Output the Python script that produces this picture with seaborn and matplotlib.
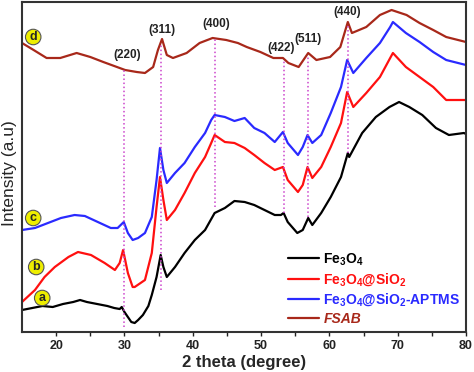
import pandas as pd
import seaborn as sns
import matplotlib.pyplot as plt

sns.set_style('ticks')
plt.rcParams['font.family'] = ['Liberation Sans', 'DejaVu Sans']
plt.rcParams['mathtext.fontset'] = 'custom'
plt.rcParams['mathtext.rm'] = 'Liberation Sans'
plt.rcParams['mathtext.bf'] = 'Liberation Sans:bold'
plt.rcParams['mathtext.it'] = 'Liberation Sans:italic'
plt.rcParams['mathtext.default'] = 'bf'

# XRD patterns (2 theta in degree, intensity in a.u.)
fe3o4_x = [15.0, 16.5, 18.0, 19.5, 21.0, 22.5, 23.5, 24.5, 26.0, 27.5, 28.5, 29.3, 29.6, 30.0,
           30.5, 31.0, 31.5, 32.0, 32.7, 33.5, 34.0, 34.7, 35.3, 35.7, 36.2, 37.4, 38.8, 40.3,
           41.8, 43.2, 44.7, 46.1, 47.6, 49.0, 50.5, 52.0, 52.9, 53.3, 53.9, 55.3, 56.1, 56.9,
           57.5, 58.8, 60.2, 61.7, 62.7, 62.9, 64.8, 66.8, 68.8, 70.2, 71.7, 73.6, 75.6, 77.5,
           79.7, 80.0]
fe3o4_y = [22, 24, 26, 25, 28, 30, 32, 30, 28, 26, 24, 23, 25, 20,
           15, 10, 9, 12, 17, 26, 37, 55, 77, 65, 55, 65, 79, 92,
           102, 119, 124, 131, 130, 127, 122, 117, 117, 119, 110, 99, 102, 114,
           107, 119, 135, 155, 179, 175, 199, 215, 225, 230, 225, 217, 204, 197,
           199, 198]

sio2_x = [15.0, 16.9, 18.3, 19.8, 21.8, 23.2, 25.1, 27.1, 28.6, 29.3, 29.8, 30.5, 31.2, 31.5,
          33.0, 34.0, 34.7, 35.2, 35.7, 36.2, 37.4, 38.8, 40.3, 41.8, 42.7, 43.2, 44.7, 46.1,
          47.6, 49.0, 50.5, 52.0, 53.2, 53.9, 55.4, 56.1, 56.8, 57.5, 58.8, 60.2, 61.7, 62.6,
          63.5, 65.4, 67.4, 68.9, 69.3, 71.2, 73.2, 75.2, 77.1, 80.0]
sio2_y = [30, 42, 55, 65, 75, 80, 77, 69, 62, 69, 82, 59, 45, 45,
          52, 79, 125, 155, 132, 112, 122, 139, 159, 175, 189, 197, 190, 189,
          184, 177, 169, 162, 165, 152, 140, 147, 165, 154, 165, 185, 209, 240,
          225, 239, 255, 274, 279, 265, 255, 245, 232, 232]

aptms_x = [15.0, 16.9, 18.8, 20.7, 22.7, 24.2, 26.1, 28.0, 29.0, 29.9, 30.5, 31.2, 32.0, 33.0,
           34.0, 34.7, 35.2, 35.7, 36.2, 37.4, 38.8, 40.3, 41.8, 42.7, 43.2, 44.7, 46.1, 47.6,
           49.0, 50.5, 52.0, 53.2, 53.9, 55.4, 56.1, 56.8, 57.5, 58.8, 60.2, 61.7, 62.6, 63.5,
           65.4, 67.4, 68.9, 69.3, 71.2, 73.2, 75.2, 77.1, 80.0]
aptms_y = [102, 104, 109, 114, 117, 116, 110, 104, 104, 110, 99, 92, 94, 99,
           115, 152, 184, 162, 149, 159, 169, 185, 199, 212, 217, 215, 211, 214,
           204, 199, 190, 200, 189, 177, 185, 197, 189, 197, 219, 245, 272, 259,
           274, 289, 305, 310, 299, 290, 280, 272, 267]

fsab_x = [15.0, 16.7, 18.6, 20.6, 23.0, 25.0, 26.9, 28.9, 30.1, 31.8, 33.0, 34.2, 34.9, 35.5,
          36.2, 37.1, 39.1, 41.0, 42.9, 44.9, 46.6, 47.9, 49.9, 51.8, 53.2, 54.0, 55.5, 56.9,
          58.1, 60.1, 61.6, 62.7, 63.3, 65.4, 67.4, 69.1, 71.3, 73.2, 75.2, 77.1, 80.0]
fsab_y = [289, 282, 274, 274, 279, 275, 270, 265, 262, 260, 259, 265, 282, 293,
          277, 274, 279, 289, 294, 292, 289, 285, 280, 274, 274, 269, 265, 279,
          272, 275, 285, 310, 299, 305, 317, 322, 317, 309, 302, 295, 290]

samples = [r'Fe$_3$O$_4$', r'Fe$_3$O$_4$@SiO$_2$', r'Fe$_3$O$_4$@SiO$_2$-APTMS', 'FSAB']
colors = ['#000000', '#ff1010', '#2a2aff', '#a8281a']
tags = ['a', 'b', 'c', 'd']
tag_x = [17.96, 17.08, 16.64, 16.64]
tag_y = [34, 65, 114, 295]

# reflections of magnetite
hkl = ['(220)', '(311)', '(400)', '(422)', '(511)', '(440)']
hkl_pos = [30.0, 35.3, 43.2, 53.3, 56.9, 62.7]
hkl_top = [262, 289, 294, 272, 277, 307]
hkl_bottom = [5, 42, 125, 119, 115, 179]
hkl_lx = [30.36, 35.47, 43.5, 53.0, 56.8, 62.6]
hkl_ly = [277, 302, 308, 284, 293, 320]

frames = []
for name, xs, ys in zip(samples, [fe3o4_x, sio2_x, aptms_x, fsab_x],
                        [fe3o4_y, sio2_y, aptms_y, fsab_y]):
    frames.append(pd.DataFrame({'two_theta': xs, 'intensity': ys, 'sample': name}))
df = pd.concat(frames, ignore_index=True)

fig = plt.figure(figsize=(4.74, 3.72), dpi=100)
ax = fig.add_axes([22 / 474, 40 / 372, 444 / 474, 330 / 372])

sns.lineplot(data=df, x='two_theta', y='intensity', hue='sample', hue_order=samples,
             palette=colors, estimator=None, sort=False, linewidth=1.6, ax=ax)

ax.vlines(hkl_pos, hkl_bottom, hkl_top, colors='#cc44cc', linestyles=':', linewidth=1.1)
for lab, lx, ly in zip(hkl, hkl_lx, hkl_ly):
    ax.text(lx, ly, lab, ha='center', va='center', fontsize=8.5, fontweight='bold', color='#222222')

for t, tx, ty in zip(tags, tag_x, tag_y):
    ax.text(tx, ty, t, ha='center', va='center', fontsize=9, fontweight='bold',
            bbox=dict(boxstyle='circle,pad=0.14', fc='#eeee00', ec='#555555', lw=0.8))

handles, labels = ax.get_legend_handles_labels()
leg = ax.legend(handles, labels, loc='upper left', bbox_to_anchor=(0.599, 0.245),
                frameon=False, fontsize=10, handlelength=2.2, handletextpad=0.35,
                labelspacing=0.25, borderpad=0, borderaxespad=0)
for txt, c in zip(leg.get_texts(), colors):
    txt.set_color(c)
    txt.set_fontweight('bold')
leg.get_texts()[3].set_fontstyle('italic')

ax.set_xlim(15, 80)
ax.set_ylim(0, 330)
ax.set_xticks([20, 30, 40, 50, 60, 70, 80])
ax.set_xticks([25, 35, 45, 55, 65, 75], minor=True)
ax.set_yticks([])
ax.tick_params(axis='x', which='both', direction='out', length=3, width=1, pad=3,
               labelsize=9, colors='#222222')
for lab in ax.get_xticklabels():
    lab.set_fontweight('bold')
for s in ax.spines.values():
    s.set_linewidth(1.5)
    s.set_color('#333333')

ax.set_xlabel('2 theta (degree)', fontsize=12, fontweight='bold', labelpad=2)
ax.set_ylabel('Intensity (a.u)', fontsize=12.5)
ax.yaxis.set_label_coords(-0.012, 0.48)

plt.savefig('out.png', dpi=100)
plt.close()
